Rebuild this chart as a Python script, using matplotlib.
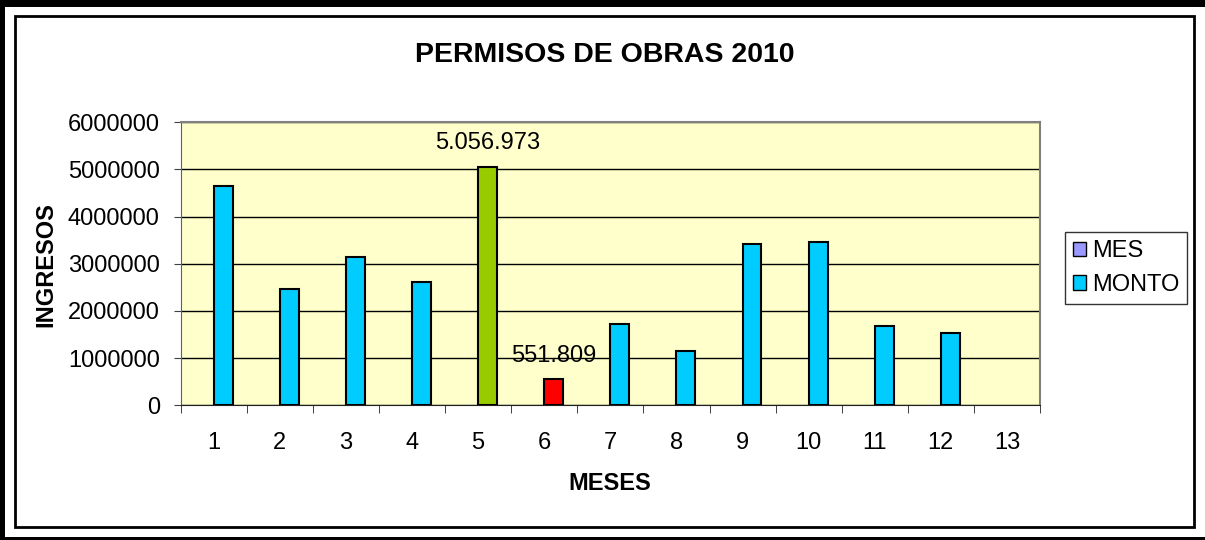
import numpy as np
import matplotlib
matplotlib.use('Agg')
import matplotlib.pyplot as plt
from matplotlib.patches import Rectangle, Patch

plt.rcParams['font.family'] = ['Liberation Sans', 'DejaVu Sans']

# Datos
meses = [str(m) for m in range(1, 14)]
mes = list(range(1, 14))
# el mes 13 no tiene monto
monto = [4650000, 2460000, 3140000, 2610000, 5056973, 551809,
         1720000, 1150000, 3420000, 3460000, 1690000, 1530000]
colores_monto = ['#00CCFF'] * 12
colores_monto[4] = '#99CC00'
colores_monto[5] = '#FF0000'
etiquetas = {4: '5.056.973', 5: '551.809'}

W, H = 1205, 540
fig = plt.figure(figsize=(W / 100, H / 100), dpi=100)

# Marcos
def px_rect(x0, y0, x1, y1, **kw):
    fig.patches.append(Rectangle((x0 / W, 1 - y1 / H), (x1 - x0) / W, (y1 - y0) / H,
                                 transform=fig.transFigure, figure=fig, **kw))

px_rect(0, 0, W, 7, facecolor='black', edgecolor='none')
px_rect(0, 0, 5, H, facecolor='black', edgecolor='none')
px_rect(0, 537, W, 540, facecolor='black', edgecolor='none')
px_rect(15, 16, 1194, 527, facecolor='none', edgecolor='black', linewidth=2)

ax = fig.add_axes([180.7 / W, 1 - 405.3 / H, (1040 - 180.7) / W, (405.3 - 122.3) / H])
ax.set_facecolor('#FFFFCC')

x = np.arange(1, 14)
w = 1 / 3.5
ax.bar(x - w / 2, mes, width=w, color='#9999FF', linewidth=0, zorder=3)
ax.bar(x[:len(monto)] + w / 2, monto, width=w, color=colores_monto,
       edgecolor='black', linewidth=1.5, zorder=3)

for i, txt in etiquetas.items():
    ax.annotate(txt, (x[i] + w / 2, monto[i]), xytext=(0, 17), textcoords='offset points',
                ha='center', va='center', fontsize=17)

ax.set_xlim(0.5, 13.5)
ax.set_ylim(0, 6000000)
ax.set_yticks(np.arange(0, 6000001, 1000000))
ax.set_yticklabels([str(v) for v in range(0, 6000001, 1000000)])
ax.set_xticks(x)
ax.set_xticklabels(meses)
ax.set_xticks(np.arange(0.5, 14, 1), minor=True)
ax.tick_params(axis='x', which='major', length=0, pad=19, labelsize=17)
ax.tick_params(axis='x', which='minor', length=6, direction='out', color='#202020')
ax.tick_params(axis='y', length=5, direction='out', pad=10, labelsize=17, color='#404040')

ax.grid(axis='y', color='black', linewidth=1, zorder=1)
ax.set_axisbelow(True)
for s in ['top', 'right']:
    ax.spines[s].set_color('#808080')
    ax.spines[s].set_linewidth(1.5)
ax.spines['left'].set_color('#606060')
ax.spines['bottom'].set_color('#202020')

fig.text(605 / W, 1 - 55 / H, 'PERMISOS DE OBRAS 2010', ha='center', va='center',
         fontsize=20.5, fontweight='bold')
fig.text(610 / W, 1 - 484 / H, 'MESES', ha='center', va='center', fontsize=17, fontweight='bold')
fig.text(46 / W, 1 - 265 / H, 'INGRESOS', ha='center', va='center', rotation=90,
         fontsize=17, fontweight='bold')

handles = [Patch(facecolor='#9999FF', edgecolor='black'),
           Patch(facecolor='#00CCFF', edgecolor='black')]
leg = fig.legend(handles, ['MES', 'MONTO'], loc='center',
                 bbox_to_anchor=(1126 / W, 1 - 268 / H), fontsize=17, frameon=True,
                 fancybox=False, handlelength=0.55, handleheight=0.55, handletextpad=0.25,
                 borderpad=0.35, labelspacing=0.5, borderaxespad=0)
leg.get_frame().set_edgecolor('black')
leg.get_frame().set_linewidth(1)

plt.savefig('out.png', dpi=100)
